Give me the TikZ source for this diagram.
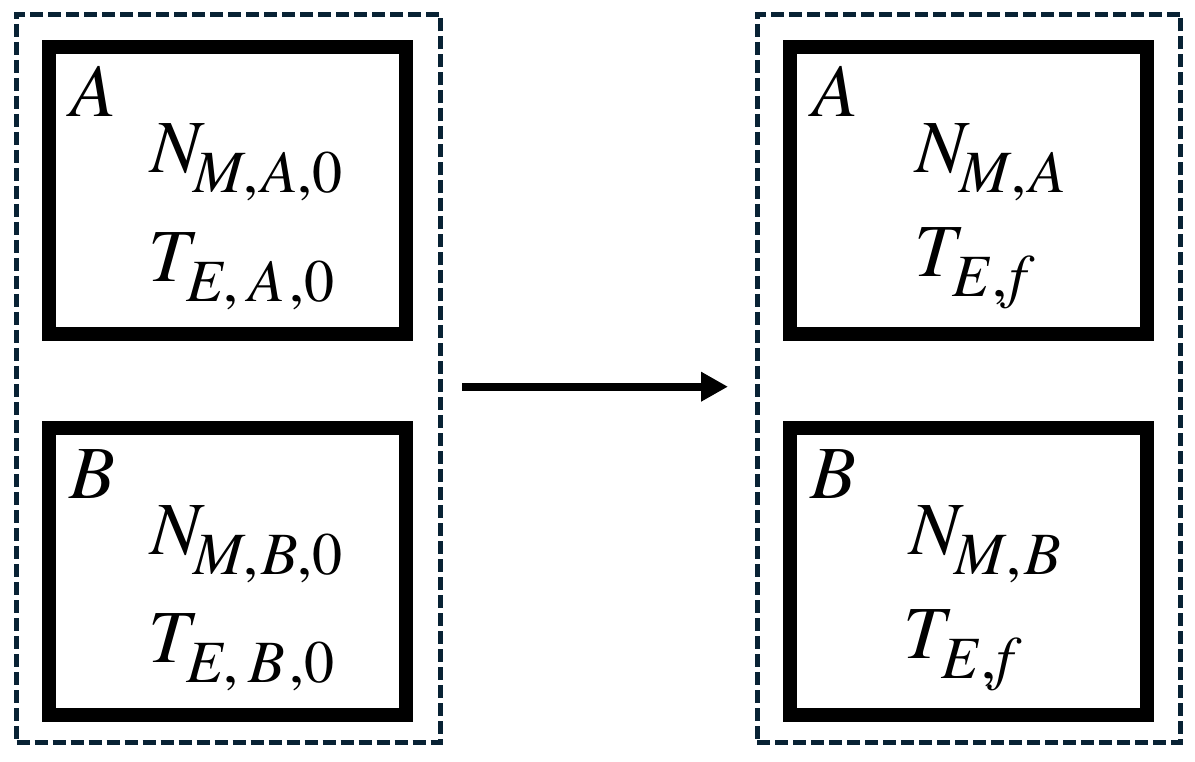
\documentclass[tikz,border=0pt]{standalone}
\usepackage{fontspec}
\IfFontExistsTF{texgyretermes-regular.otf}
  {\setmainfont{texgyretermes-regular.otf}[ItalicFont=texgyretermes-italic.otf]}
  {}
\usetikzlibrary{arrows.meta}
\definecolor{navy}{RGB}{8,34,52}
\newcommand\mysub[2]{\kern#1pt\raisebox{-20pt}{\fontsize{60}{60}\selectfont #2}}
\newcommand\up[1]{{\upshape #1}}
\begin{document}
\begin{tikzpicture}[x=1pt,y=-1pt,
  groupbox/.style={draw=navy, line width=5pt, dash pattern=on 13pt off 5pt, minimum width=423.5pt, minimum height=727.5pt, inner sep=0pt},
  statebox/.style={draw=black, line width=14pt, minimum width=357pt, minimum height=287pt, inner sep=0pt},
  lbl/.style={anchor=base west, inner sep=0pt, font=\fontsize{75}{75}\selectfont\itshape},
  arrowline/.style={line width=8pt, -{Triangle[length=27pt,width=28pt]}}]
\useasboundingbox (0,0) rectangle (1195,762);
% groups
\node[groupbox] (gL) at (228.25,378.25) {};
\node[groupbox] (gR) at (969,378.25) {};
% boxes
\node[statebox] (bLA) at (227.5,190.1) {};
\node[statebox] (bLB) at (227.5,571.35) {};
\node[statebox] (bRA) at (968.5,190.1) {};
\node[statebox] (bRB) at (968.5,571.35) {};
% left labels
\node[lbl] (tLA) at (70,117) {A};
\node[lbl] (nLA) at (150,173) {N\mysub{-7}{M\up{,}\kern3pt A\up{,}\up{0}}};
\node[lbl] (eLA) at (148,282) {T\mysub{-3}{E\up{,}\kern10pt A\kern4pt\up{,}\up{0}}};
\node[lbl] (tLB) at (69,498) {B};
\node[lbl] (nLB) at (150,554) {N\mysub{-7}{M\up{,}\kern3pt B\up{,}\up{0}}};
\node[lbl] (eLB) at (148,662) {T\mysub{-3}{E\up{,}\kern10pt B\kern4pt\up{,}\up{0}}};
% right labels
\node[lbl] (tRA) at (812,117) {A};
\node[lbl] (nRA) at (915,173) {N\mysub{-6}{M\kern2pt\up{,}\kern3pt A}};
\node[lbl] (eRA) at (914,277) {T\mysub{-3}{E\kern3pt\up{,}\kern2pt f}};
\node[lbl] (tRB) at (810,498) {B};
\node[lbl] (nRB) at (909,554) {N\mysub{-5}{M\kern2pt\up{,}\kern3pt B}};
\node[lbl] (eRB) at (903,658) {T\mysub{-3}{E\kern3pt\up{,}f}};
% arrow
\coordinate (a1) at (462,386.7);
\coordinate (a2) at (728,386.7);
\draw[arrowline] (a1) -- (a2);
\end{tikzpicture}
\end{document}
